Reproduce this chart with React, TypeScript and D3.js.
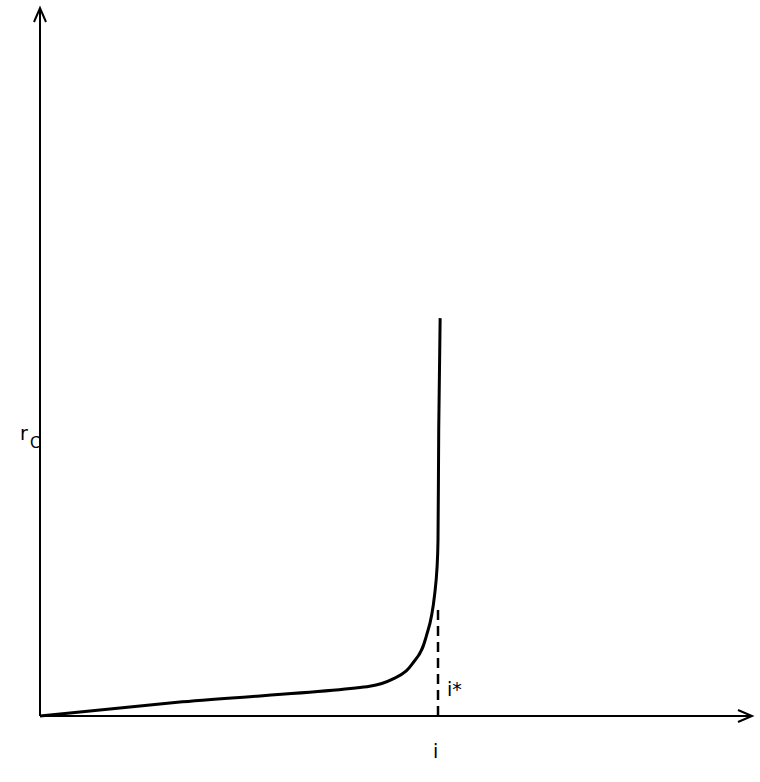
import React from "react";
import * as d3 from "d3";

const curveX = [0, 20, 46.3, 49.9, 52.7, 54.5, 55.5, 55.9, 56.0, 56.2];
const curveY = [0, 2.0, 4.2, 5.4, 7.9, 12.1, 17.8, 24.9, 40.4, 56.2];
const istarX = 55.9;
const istarTop = 15.5;

export default function App() {
  const W = 760, H = 782;
  const x = d3.scaleLinear().domain([0, 100]).range([40, 752]);
  const y = d3.scaleLinear().domain([0, 100]).range([716, 8]);
  const line = d3.line<number>().x((_, i) => x(curveX[i])).y((d) => y(d)).curve(d3.curveMonotoneY);
  const ox = x(0), oy = y(0);
  return (
    <svg width={W} height={H} style={{ position: "absolute", left: 0, top: 0, background: "#fff" }}>
      <g stroke="#000" strokeWidth={2} fill="none">
        <line x1={ox} y1={oy} x2={ox} y2={y(100)} />
        <line x1={ox} y1={oy} x2={x(100)} y2={oy} />
        <path d={`M${ox - 6},${y(100) + 14} L${ox},${y(100)} L${ox + 6},${y(100) + 14}`} />
        <path d={`M${x(100) - 14},${oy - 6} L${x(100)},${oy} L${x(100) - 14},${oy + 6}`} />
        <path d={line(curveY) || ""} strokeWidth={3} />
        <line x1={x(istarX)} y1={oy} x2={x(istarX)} y2={y(istarTop)} strokeDasharray="10,6" strokeWidth={2.5} />
      </g>
      <g fontFamily="DejaVu Sans" fontSize={19} fill="#000">
        <text x={20} y={440}>r</text>
        <text x={30} y={448} fontSize={15}>C</text>
        <text x={447} y={696}>i*</text>
        <text x={433} y={758}>i</text>
      </g>
    </svg>
  );
}
